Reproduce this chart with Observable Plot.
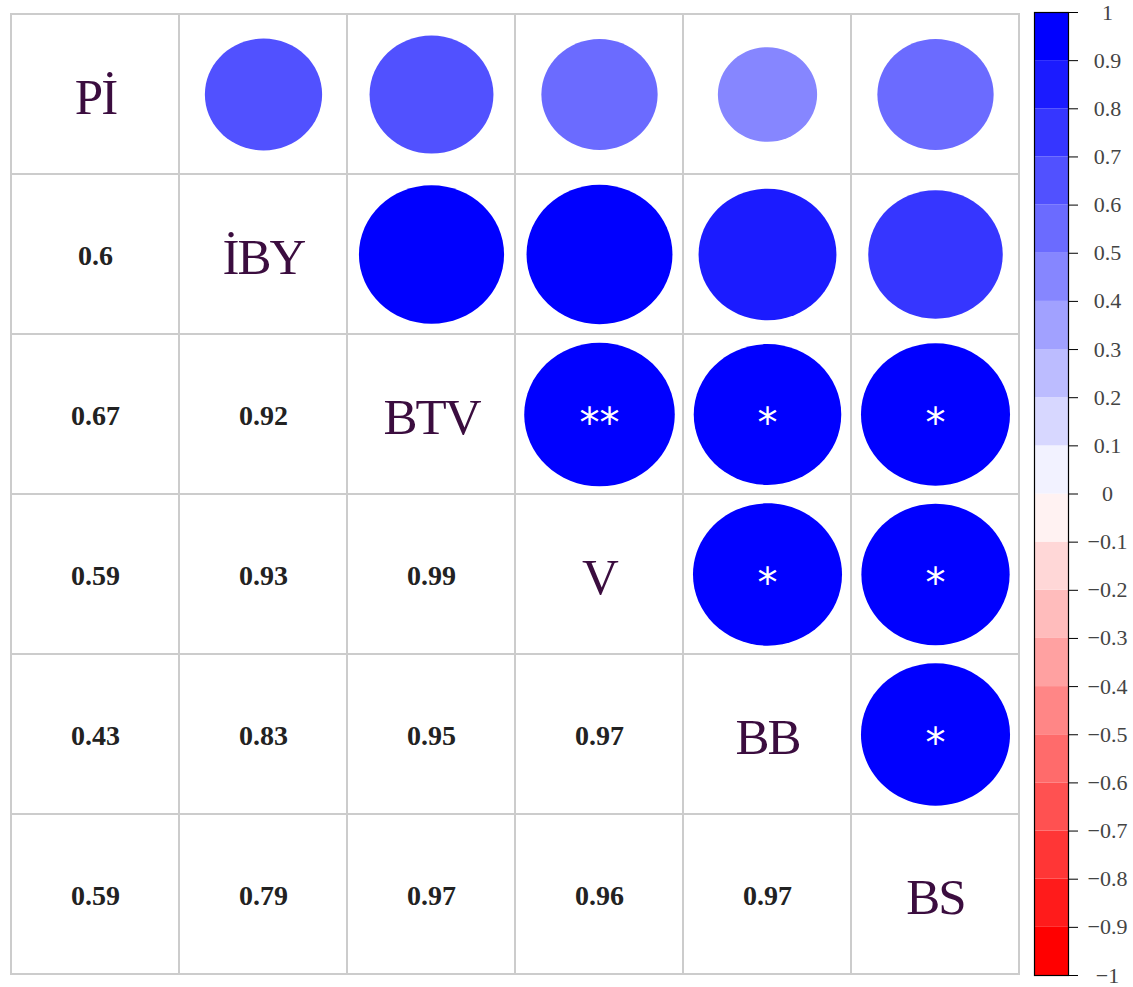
<!DOCTYPE html>
<html>
<head>
<meta charset="utf-8">
<script src="https://cdn.jsdelivr.net/npm/d3@7"></script>
<script src="https://cdn.jsdelivr.net/npm/@observablehq/plot@0.6"></script>
<style>
  html, body { margin: 0; padding: 0; background: white; }
  #wrap { display: flex; flex-direction: row; width: 1133px; height: 987px; }
  .diag text { letter-spacing: -2px; }
  .cbar text { font-family: "Liberation Serif", "Times New Roman", serif; }
</style>
</head>
<body>
<div id="wrap"></div>
<script>
// ---- data ----
const vars = ["Pİ", "İBY", "BTV", "V", "BB", "BS"];
// lower-triangle correlations (row variable vs. earlier variables)
const rowIBY = [0.6];
const rowBTV = [0.67, 0.92];
const rowV   = [0.59, 0.93, 0.99];
const rowBB  = [0.43, 0.83, 0.95, 0.97];
const rowBS  = [0.59, 0.79, 0.97, 0.96, 0.97];
const lowerRows = [[], rowIBY, rowBTV, rowV, rowBB, rowBS];
// significance marks (row, column, stars) in the upper triangle
const sigRow   = ["BTV", "BTV", "BTV", "V", "V", "BB"];
const sigCol   = ["V",   "BB",  "BS",  "BB", "BS", "BS"];
const sigStars = ["**",  "*",   "*",   "*",  "*",  "*"];
// colour bar
const colorTicks = [1, 0.9, 0.8, 0.7, 0.6, 0.5, 0.4, 0.3, 0.2, 0.1, 0,
  -0.1, -0.2, -0.3, -0.4, -0.5, -0.6, -0.7, -0.8, -0.9, -1];
const colorThresholds = [-0.9, -0.8, -0.7, -0.6, -0.5, -0.4, -0.3, -0.2, -0.1, 0,
  0.1, 0.2, 0.3, 0.4, 0.5, 0.6, 0.7, 0.8, 0.9];
const binColors = d3.quantize(d3.piecewise(d3.interpolateRgb, ["#ff0000", "#ffffff", "#0000ff"]), 20);

// ---- derived tables ----
const cells = [];
for (const r of vars) for (const c of vars) cells.push({row: r, col: c});
const lower = [], upper = [];
lowerRows.forEach((vals, i) => vals.forEach((v, j) => {
  lower.push({row: vars[i], col: vars[j], value: v});
  upper.push({row: vars[j], col: vars[i], value: v});
}));
const diag = vars.map(v => ({row: v, col: v, label: v}));
const stars = sigRow.map((r, i) => ({row: r, col: sigCol[i], s: sigStars[i]}));
const asc = colorTicks.slice().sort((a, b) => a - b);
const bins = d3.pairs(asc).map(([lo, hi]) => ({lo, hi, mid: (lo + hi) / 2}));

// ---- layout ----
const W1 = 1030, H = 987;
const mL = 10, mR = 11, mT = 12, mB = 12;
const cellW = (W1 - mL - mR) / vars.length;
const cellH = (H - mT - mB) / vars.length;
const aspect = cellW / cellH;
const K = 0.5522847498;
const ellipse = {
  draw(ctx, size) {
    const ry = Math.sqrt(size / Math.PI), rx = ry * aspect;
    ctx.moveTo(rx, 0);
    ctx.bezierCurveTo(rx, K * ry, K * rx, ry, 0, ry);
    ctx.bezierCurveTo(-K * rx, ry, -rx, K * ry, -rx, 0);
    ctx.bezierCurveTo(-rx, -K * ry, -K * rx, -ry, 0, -ry);
    ctx.bezierCurveTo(K * rx, -ry, rx, -K * ry, rx, 0);
    ctx.closePath();
  }
};
const colorOpts = {type: "threshold", domain: colorThresholds, range: binColors};

const matrix = Plot.plot({
  width: W1, height: H,
  marginLeft: mL, marginRight: mR, marginTop: mT, marginBottom: mB,
  style: {background: "white", overflow: "visible"},
  x: {type: "band", domain: vars, padding: 0, axis: null},
  y: {type: "band", domain: vars, padding: 0, axis: null},
  r: {type: "sqrt", domain: [0, 1], range: [0, 0.45 * cellH]},
  color: colorOpts,
  marks: [
    Plot.cell(cells, {x: "col", y: "row", fill: "white", stroke: "#cccccc", strokeWidth: 2}),
    Plot.dot(upper, {x: "col", y: "row", r: d => Math.abs(d.value), fill: "value", symbol: ellipse}),
    Plot.text(diag, {x: "col", y: "row", text: "label", className: "diag",
      fontFamily: "Liberation Serif, Times New Roman, serif", fontSize: 51, fill: "#3b0d3f", dy: 3}),
    Plot.text(lower, {x: "col", y: "row", text: d => String(d.value),
      fontFamily: "Liberation Serif, Times New Roman, serif", fontWeight: "bold", fontSize: 28, fill: "#222222", dy: 2}),
    Plot.text(stars, {x: "col", y: "row", text: "s",
      fontFamily: "DejaVu Sans, sans-serif", fontSize: 40, fill: "white", dy: 10})
  ]
});

const fmt = d => (d < 0 ? "\u2212" : "") + String(Math.round(Math.abs(d) * 10) / 10);
const bar = Plot.plot({
  width: 103, height: H,
  marginLeft: 4, marginRight: 65, marginTop: 12, marginBottom: 12,
  className: "cbar",
  style: {background: "white", overflow: "visible", fontFamily: "Liberation Serif, Times New Roman, serif"},
  x: {domain: [0, 1], axis: null},
  y: {domain: [-1, 1], axis: null},
  color: colorOpts,
  marks: [
    Plot.rect(bins, {y1: "lo", y2: "hi", fill: "mid"}),
    Plot.frame({stroke: "black", strokeWidth: 1.2}),
    Plot.axisY(colorTicks, {anchor: "right", tickSize: 9, tickPadding: 30, textAnchor: "middle",
      tickFormat: fmt, fontSize: 22, fontFamily: "Liberation Serif, Times New Roman, serif",
      color: "#444444", stroke: "black"})
  ]
});

const wrap = document.getElementById("wrap");
wrap.appendChild(matrix);
wrap.appendChild(bar);
</script>
</body>
</html>
